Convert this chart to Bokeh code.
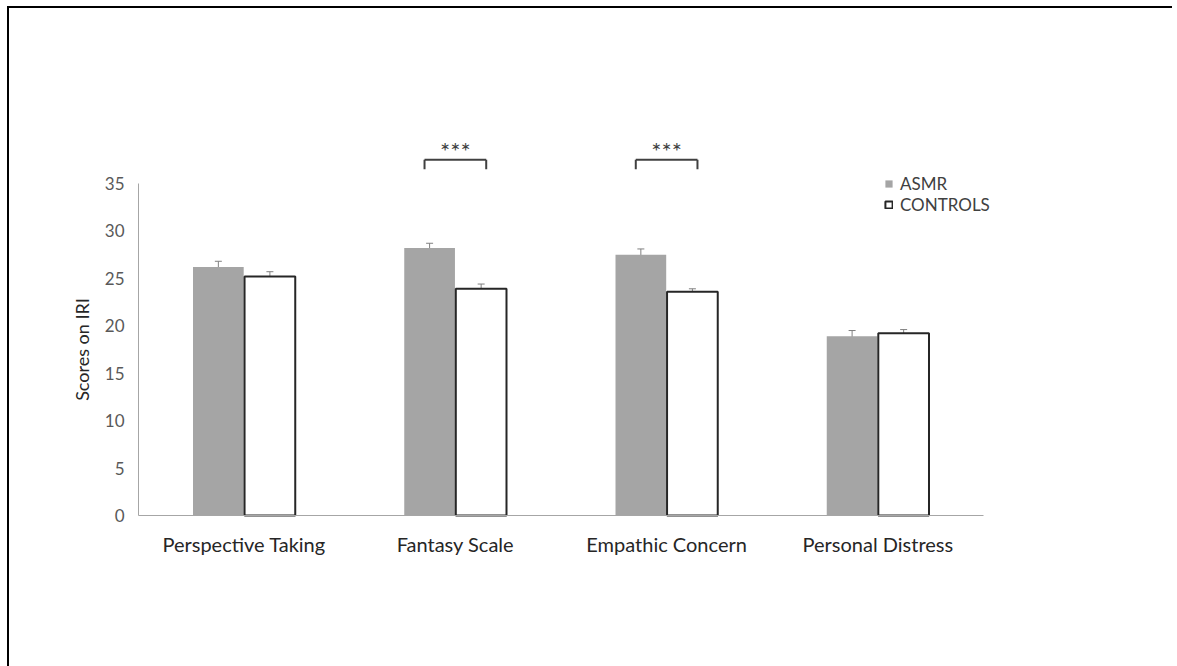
from bokeh.plotting import figure
from bokeh.models import ColumnDataSource, Range1d, FixedTicker, Whisker, TeeHead
from bokeh.transform import dodge
from bokeh.core.properties import value
from bokeh.embed import file_html
from bokeh.resources import INLINE

categories = ["Perspective Taking", "Fantasy Scale", "Empathic Concern", "Personal Distress"]
asmr = [26.2, 28.2, 27.5, 18.9]
asmr_err = [0.6, 0.5, 0.6, 0.6]
controls = [25.2, 23.9, 23.6, 19.2]
controls_err = [0.5, 0.5, 0.3, 0.4]
y_ticks = [0, 5, 10, 15, 20, 25, 30, 35]
sig_categories = ["Fantasy Scale", "Empathic Concern"]
sig_labels = ["***", "***"]

FONT = "Lato"
W, H = 1172, 666

x_pos = [i + 0.5 for i in range(len(categories))]
source = ColumnDataSource(dict(
    x=x_pos,
    asmr=asmr,
    asmr_hi=[v + e for v, e in zip(asmr, asmr_err)],
    asmr_lo=[v - e for v, e in zip(asmr, asmr_err)],
    ctrl=controls,
    ctrl_hi=[v + e for v, e in zip(controls, controls_err)],
    ctrl_lo=[v - e for v, e in zip(controls, controls_err)],
))
sig_source = ColumnDataSource(dict(x=[x_pos[categories.index(c)] for c in sig_categories],
                                   label=sig_labels))

# the frame covers the whole canvas; axes are pinned at data 0
px_x = 211.25          # pixels per category
px_y = 9.486           # pixels per score unit
x0_px, y0_px = 138, 515  # where the axes cross on the page
x_start = -x0_px / px_x
x_end = x_start + W / px_x
y_end = y0_px / px_y
y_start = y_end - H / px_y
p = figure(width=W, height=H, output_backend="svg", toolbar_location=None,
           x_range=Range1d(x_start, x_end), y_range=Range1d(y_start, y_end))
p.min_border_left = 0
p.min_border_right = 0
p.min_border_top = 0
p.min_border_bottom = 0
p.outline_line_color = None
p.xgrid.grid_line_color = None
p.ygrid.grid_line_color = None

# page frame: only the top and left edges fall inside the window
bx = x_start + 7.5 / px_x
by = y_end - 6.5 / px_y
p.line(x=[bx, bx, x_end], y=[y_start, by, by],
       line_color="black", line_width=2, line_join="miter", line_cap="butt")

off = 0.122
w = 0.24
p.vbar(x=dodge("x", -off), top="asmr", width=w, source=source,
       fill_color="#a5a5a5", line_color=None, legend_label="ASMR")
p.vbar(x=dodge("x", off), top="ctrl", width=w, source=source,
       fill_color="white", line_color="#262626", line_width=2, legend_label="CONTROLS")

for key, o in (("asmr", -off), ("ctrl", off)):
    wk = Whisker(base=dodge("x", o), upper=key + "_hi", lower=key + "_lo",
                 source=source, line_color="#808080", line_width=1,
                 upper_head=TeeHead(size=7, line_color="#808080", line_width=1),
                 lower_head=TeeHead(size=7, line_color="#808080", line_width=1))
    p.add_layout(wk)

# significance brackets
bo = 0.146
p.segment(x0=dodge("x", -bo), x1=dodge("x", bo), y0=37.5, y1=37.5,
          source=sig_source, line_color="#404040", line_width=2)
p.segment(x0=dodge("x", -bo), x1=dodge("x", -bo), y0=36.5, y1=37.5,
          source=sig_source, line_color="#404040", line_width=2)
p.segment(x0=dodge("x", bo), x1=dodge("x", bo), y0=36.5, y1=37.5,
          source=sig_source, line_color="#404040", line_width=2)
p.text(x="x", y=37.5, text="label", source=sig_source, text_align="center",
       text_baseline="alphabetic", text_font=value(FONT), text_font_size="24px",
       text_color="#404040", y_offset=-9)

# axes
p.yaxis.fixed_location = 0
p.yaxis.ticker = FixedTicker(ticks=y_ticks)
p.yaxis.bounds = (0, 35)
p.yaxis.axis_line_color = "#a6a6a6"
p.yaxis.major_tick_line_color = None
p.yaxis.minor_tick_line_color = None
p.yaxis.major_tick_out = 0
p.yaxis.major_tick_in = 0
p.yaxis.major_label_standoff = 14
p.yaxis.major_label_text_font = FONT
p.yaxis.major_label_text_font_size = "17px"
p.yaxis.major_label_text_color = "#595959"
p.yaxis.axis_label = "Scores on IRI"
p.yaxis.axis_label_text_font = FONT
p.yaxis.axis_label_text_font_size = "18px"
p.yaxis.axis_label_text_font_style = "normal"
p.yaxis.axis_label_text_color = "#262626"
p.yaxis.axis_label_standoff = 9

p.xaxis.fixed_location = 0
p.xaxis.bounds = (0, len(categories))
p.xaxis.ticker = FixedTicker(ticks=x_pos)
p.xaxis.major_label_overrides = {x: c for x, c in zip(x_pos, categories)}
p.xaxis.axis_line_color = "#a6a6a6"
p.xaxis.major_tick_line_color = None
p.xaxis.minor_tick_line_color = None
p.xaxis.major_tick_out = 0
p.xaxis.major_tick_in = 0
p.xaxis.major_label_standoff = 16
p.xaxis.major_label_text_font = FONT
p.xaxis.major_label_text_font_size = "20px"
p.xaxis.major_label_text_color = "#262626"

lg = p.legend[0]
lg.location = (884, 451)
lg.glyph_width = 9
lg.glyph_height = 9
lg.label_standoff = 7
lg.label_height = 17
lg.label_text_font = FONT
lg.label_text_font_size = "17px"
lg.label_text_color = "#404040"
lg.spacing = -2
lg.padding = 0
lg.margin = 0
lg.border_line_color = None
lg.background_fill_alpha = 0

open("out.html", "w").write(file_html(p, INLINE))
